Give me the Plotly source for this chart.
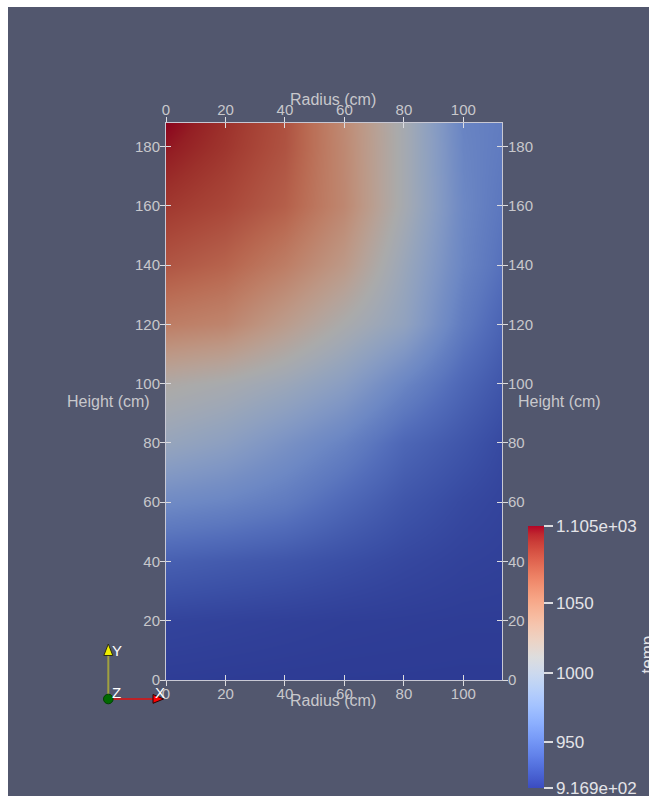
import plotly.graph_objects as go

# ---- field samples: temperature over the (radius, height) cross-section ----
radius_cm = [0, 20, 40, 60, 80, 100, 113]
height_cm = [0, 20, 40, 60, 80, 100, 120, 140, 160, 180, 188]

# rows follow height_cm (bottom to top), columns follow radius_cm
temp = [
    [918.0, 917.6, 917.3, 917.1, 917.0, 916.9, 916.9],
    [922.0, 921.0, 920.0, 919.0, 918.5, 918.0, 918.0],
    [938.0, 935.0, 932.0, 928.0, 924.0, 921.0, 920.0],
    [966.0, 962.0, 955.0, 943.0, 932.0, 925.0, 922.0],
    [994.0, 986.0, 973.0, 960.0, 942.0, 932.0, 925.0],
    [1014.0, 1008.0, 998.0, 984.0, 962.0, 942.0, 932.0],
    [1054.0, 1049.0, 1030.0, 1010.0, 990.0, 955.0, 940.0],
    [1076.0, 1069.0, 1054.0, 1033.0, 997.0, 962.0, 948.0],
    [1090.0, 1083.0, 1071.0, 1047.0, 1006.0, 964.0, 952.0],
    [1101.0, 1091.0, 1077.0, 1046.0, 1006.0, 962.0, 955.0],
    [1105.0, 1093.0, 1078.0, 1045.0, 1006.0, 961.0, 956.0],
]

temp_min, temp_max = 916.9, 1105.0
bar_tickvals = [916.9, 950, 1000, 1050, 1105.0]
bar_ticktext = ["9.169e+02", "950", "1000", "1050", "1.105e+03"]
radius_ticks = [0, 20, 40, 60, 80, 100]
height_ticks = [0, 20, 40, 60, 80, 100, 120, 140, 160, 180]
radius_range = [0, 113]
height_range = [0, 188]

# ---- "Cool to Warm" diverging map ----
COOL_WARM = [
    (59, 76, 192), (68, 90, 204), (77, 104, 215), (87, 117, 225),
    (98, 130, 234), (108, 142, 241), (119, 154, 247), (130, 165, 251),
    (141, 176, 254), (152, 185, 255), (163, 194, 255), (174, 201, 253),
    (184, 208, 249), (194, 213, 244), (204, 217, 238), (213, 219, 230),
    (221, 221, 221), (229, 216, 209), (236, 211, 197), (241, 204, 185),
    (245, 196, 173), (247, 187, 160), (247, 177, 148), (247, 166, 135),
    (244, 154, 123), (241, 141, 111), (236, 127, 99), (229, 112, 88),
    (222, 96, 77), (213, 80, 66), (203, 62, 56), (192, 40, 47),
    (180, 4, 38),
]


def colorscale(shade=1.0):
    n = len(COOL_WARM) - 1
    return [[i / n, "rgb({:.0f},{:.0f},{:.0f})".format(r * shade, g * shade, b * shade)]
            for i, (r, g, b) in enumerate(COOL_WARM)]


SURFACE_SHADE = 0.77   # lit surface is dimmer than the legend colours

# ---- page geometry ----
W, H = 649, 796
ML, MR, MT, MB = 166, 147, 123, 116
PW, PH = W - ML - MR, H - MT - MB
BG = "#52576e"
FONT = "Liberation Sans, Arial, sans-serif"
AXIS_TXT = "#c8c8cc"
TICK_CLR = "#dcdce0"


def px_x(px):
    return (px - ML) / PW


def px_y(py):
    return (H - MB - py) / PH


def add_text(text, tx, ty, font, angle=0):
    fig.add_annotation(text=text, x=px_x(tx), y=px_y(ty), xref="paper", yref="paper",
                       xanchor="center", yanchor="middle", showarrow=False,
                       textangle=angle, font=font)


fig = go.Figure()

fig.add_trace(go.Heatmap(
    x=radius_cm, y=height_cm, z=temp,
    zmin=temp_min, zmax=temp_max,
    colorscale=colorscale(SURFACE_SHADE),
    zsmooth="best", showscale=False, hoverinfo="skip",
))

# colour legend (unshaded map)
fig.add_trace(go.Scatter(
    x=[radius_range[0], radius_range[0]], y=[height_range[0], height_range[0]],
    xaxis="x2", yaxis="y2", mode="markers", hoverinfo="skip", showlegend=False,
    marker=dict(
        size=1, opacity=0, color=[temp_min, temp_max],
        cmin=temp_min, cmax=temp_max, colorscale=colorscale(1.0), showscale=True,
        colorbar=dict(
            x=px_x(528.3), xanchor="left", xpad=0,
            y=px_y(788.3), yanchor="bottom", ypad=0,
            len=261.6, lenmode="pixels", thickness=16, thicknessmode="pixels",
            outlinewidth=0, bgcolor="rgba(0,0,0,0)",
            tickmode="array", tickvals=bar_tickvals, ticktext=bar_ticktext,
            ticks="outside", ticklen=9, tickwidth=1.5, tickcolor=TICK_CLR,
            ticklabeloverflow="allow",
            tickfont=dict(family=FONT, size=17, color="#e4e4e8"),
        ),
    ),
))

common = dict(showgrid=False, zeroline=False, showline=True, linecolor="#c8c8d4",
              linewidth=1, tickcolor=TICK_CLR, tickwidth=1.2, ticklen=5,
              tickfont=dict(family=FONT, size=15, color=AXIS_TXT), tickmode="array")

fig.update_layout(
    width=W, height=H,
    margin=dict(l=ML, r=MR, t=MT, b=MB, autoexpand=False),
    paper_bgcolor=BG, plot_bgcolor=BG,
    showlegend=False,
    xaxis=dict(range=radius_range, tickvals=radius_ticks, side="bottom",
               ticks="outside", mirror="ticks", ticklabelstandoff=-5, **common),
    xaxis2=dict(range=radius_range, tickvals=radius_ticks, side="top",
                overlaying="x", ticks="inside", mirror="ticks",
                ticklabelstandoff=1, **common),
    yaxis=dict(range=height_range, tickvals=height_ticks, side="left",
               ticks="outside", mirror="ticks", ticklabelstandoff=-3, **common),
    yaxis2=dict(range=height_range, tickvals=height_ticks, side="right",
                overlaying="y", ticks="inside", mirror="ticks",
                ticklabelstandoff=2, **common),
)

# axis titles
title_font = dict(family=FONT, size=16, color=AXIS_TXT)
add_text("Radius (cm)", 333, 100, title_font)
add_text("Radius (cm)", 333, 701, title_font)
add_text("Height (cm)", 108, 401, title_font)
add_text("Height (cm)", 559.5, 401, title_font)

# colour legend title
add_text("temp", 646.5, 655, dict(family=FONT, size=17, color="#e4e4e8"), angle=-90)

# orientation triad
ox, oy = 108.3, 699.0
shapes = [
    dict(type="line", x0=px_x(ox), y0=px_y(oy), x1=px_x(ox), y1=px_y(655),
         line=dict(color="#a0a040", width=2)),
    dict(type="path",
         path="M {} {} L {} {} L {} {} Z".format(px_x(103.8), px_y(655.5), px_x(112.8),
                                               px_y(655.5), px_x(ox), px_y(644)),
         fillcolor="#f0f000", line=dict(color="#303010", width=1)),
    dict(type="line", x0=px_x(113), y0=px_y(oy), x1=px_x(153), y1=px_y(oy),
         line=dict(color="#e01010", width=1.5)),
    dict(type="path",
         path="M {} {} L {} {} L {} {} Z".format(px_x(153), px_y(694.5), px_x(153),
                                               px_y(703.3), px_x(163.5), px_y(oy)),
         fillcolor="#ff0000", line=dict(color="#300000", width=1)),
    dict(type="circle", x0=px_x(ox - 4.8), x1=px_x(ox + 4.8), y0=px_y(oy - 4.8),
         y1=px_y(oy + 4.8), fillcolor="#006a00", line=dict(color="#004000", width=1)),
    # white frame strips along the top and left edges of the page
    dict(type="rect", x0=px_x(0), x1=px_x(8), y0=px_y(H), y1=px_y(0),
         fillcolor="white", line=dict(width=0)),
    dict(type="rect", x0=px_x(0), x1=px_x(W), y0=px_y(7), y1=px_y(0),
         fillcolor="white", line=dict(width=0)),
]
for s in shapes:
    s.update(xref="paper", yref="paper", layer="above")
    fig.add_shape(**s)

triad_font = dict(family=FONT, size=15, color="white")
add_text("Y", 116.5, 650.5, triad_font)
add_text("Z", 116.7, 692, triad_font)
add_text("X", 160, 692, triad_font)

fig.write_html("out.html")
